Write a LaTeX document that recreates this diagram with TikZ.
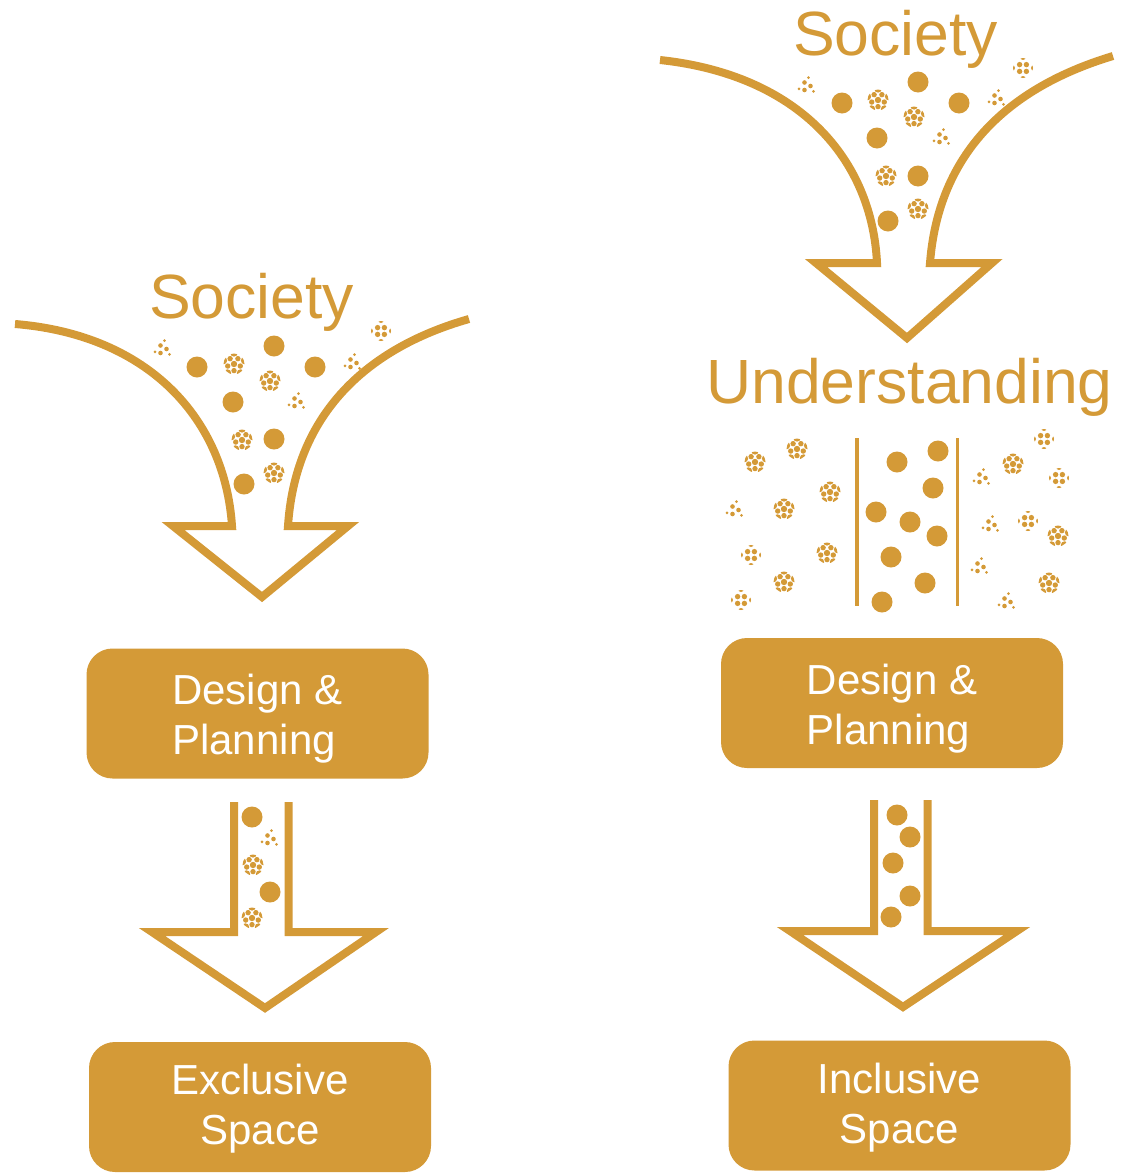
\documentclass[tikz,border=0pt]{standalone}
\usepackage{fontspec}
\setmainfont{Liberation Sans}
\usepackage{xcolor}
\definecolor{ochre}{RGB}{212,154,55}

\begin{document}
\begin{tikzpicture}[x=1pt,y=-1pt]
\useasboundingbox (0,0) rectangle (1120,1173);

\tikzstyle{flow}=[draw=ochre,line width=8pt,miter limit=12]
\tikzstyle{wall}=[draw=ochre,line width=3.5pt]
\tikzstyle{panel}=[fill=ochre,rounded corners=26pt,minimum width=342pt,minimum height=130pt]
\tikzstyle{paneltext}=[text=white,font=\fontsize{42}{50}\selectfont,inner sep=0pt]
\tikzstyle{heading}=[text=ochre,font=\fontsize{62.5}{62.5}\selectfont,inner sep=0pt,anchor=base]

\tikzset{
  solidball/.pic={\fill[ochre] (0,0) circle (10.5);},
  fullball/.pic={
    \begin{scope}
      \clip (0,0) circle (10.5);
      \fill[ochre] (0,0) circle (3.2);
      \foreach \a in {90,162,...,378} \fill[ochre] (\a:6.6) circle (2.7);
      \foreach \a in {126,198,...,414} \fill[ochre] (\a:11.2) circle (3.8);
    \end{scope}},
  midball/.pic={
    \begin{scope}
      \clip (0,0) circle (10);
      \foreach \a in {45,135,225,315} \fill[ochre] (\a:4.8) circle (2.7);
      \foreach \a in {0,90,180,270} \fill[ochre] (\a:10.8) circle (2.8);
    \end{scope}},
  faintball/.pic={
    \foreach \u/\v in {-2.5/-3.5,3.5/0,-2.5/4} \fill[ochre] (\u,\v) circle (2.3);
    \foreach \a in {40,160,280} \fill[ochre] (\a:8.5) circle (1.5);}
}

%% Left column: society straight into design
\node (soc1) [heading] at (251.5,318) {Society};
\draw[flow] (15,324) .. controls (150,335) and (225,420) .. (232,526) -- (173,526)
  -- (262,597) -- (348,526) -- (288,526) .. controls (295,420) and (360,350) .. (469,319);
\foreach \x/\y in {197/367,274/346,315/367,233/402,274/439,244/484}
  \pic at (\x,\y) {solidball};
\foreach \x/\y in {234/364,270/381,242/440,274/473}
  \pic at (\x,\y) {fullball};
\pic at (381,331) {midball};
\foreach \x/\y in {163/349,353/363,297/402}
  \pic at (\x,\y) {faintball};

\node (plan1) [panel] at (257.5,713.5) {};
\node (plan1txt) [paneltext,align=left,yshift=-5.5pt] at (plan1.center) {Design \&\\Planning};

\draw[flow] (234,802) -- (234,932) -- (152,932) -- (265,1008) -- (376,932)
  -- (288.5,932) -- (288.5,802);
\foreach \x/\y in {252/817,270/892}
  \pic at (\x,\y) {solidball};
\foreach \x/\y in {253/865,252/918}
  \pic at (\x,\y) {fullball};
\pic at (270,839) {faintball};

\node (space1) [panel] at (260,1107) {};
\node (space1txt) [paneltext,align=center,yshift=-2pt] at (space1.center) {Exclusive\\Space};

%% Right column: society through understanding
\node (soc2) [heading] at (895.5,55) {Society};
\draw[flow] (660,60) .. controls (800,75) and (872,160) .. (877,263) -- (816,263)
  -- (907,338) -- (992,263) -- (930,263) .. controls (938,160) and (1000,90) .. (1113,56);
\foreach \x/\y in {842/103,918/82,959/103,877/138,918/176,888/221}
  \pic at (\x,\y) {solidball};
\foreach \x/\y in {878/100,914/117,886/176,918/209}
  \pic at (\x,\y) {fullball};
\pic at (1023,68) {midball};
\foreach \x/\y in {807/86,997/99,942/138}
  \pic at (\x,\y) {faintball};

\node (und) [heading] at (909.5,403) {Understanding};
\draw[wall] (857,438) -- (857,606);
\draw[wall] (957.5,438) -- (957.5,606);
\foreach \x/\y in {897/462,938/451,933/488,876/512,910/522,937/536,891/557,925/583,882/602}
  \pic at (\x,\y) {solidball};
\foreach \x/\y in {755/462,797/449,830/492,784/509,827/553,784/582,1013/464,1058/536,1049/583}
  \pic at (\x,\y) {fullball};
\foreach \x/\y in {751/555,741/600,1028/521,1059/478,1044/439}
  \pic at (\x,\y) {midball};
\foreach \x/\y in {735/510,982/478,991/525,980/567,1007/602}
  \pic at (\x,\y) {faintball};

\node (plan2) [panel] at (892,703) {};
\node (plan2txt) [paneltext,align=left,yshift=-6pt] at (plan2.center) {Design \&\\Planning};

\draw[flow] (874,800) -- (874,931) -- (790,931) -- (903,1007) -- (1017,931)
  -- (927.5,931) -- (927.5,800);
\foreach \x/\y in {897/815,910/837,893/863,910/896,891/917}
  \pic at (\x,\y) {solidball};

\node (space2) [panel] at (899.5,1105.5) {};
\node (space2txt) [paneltext,align=center,yshift=-2pt] at (space2.center) {Inclusive\\Space};
\end{tikzpicture}
\end{document}
